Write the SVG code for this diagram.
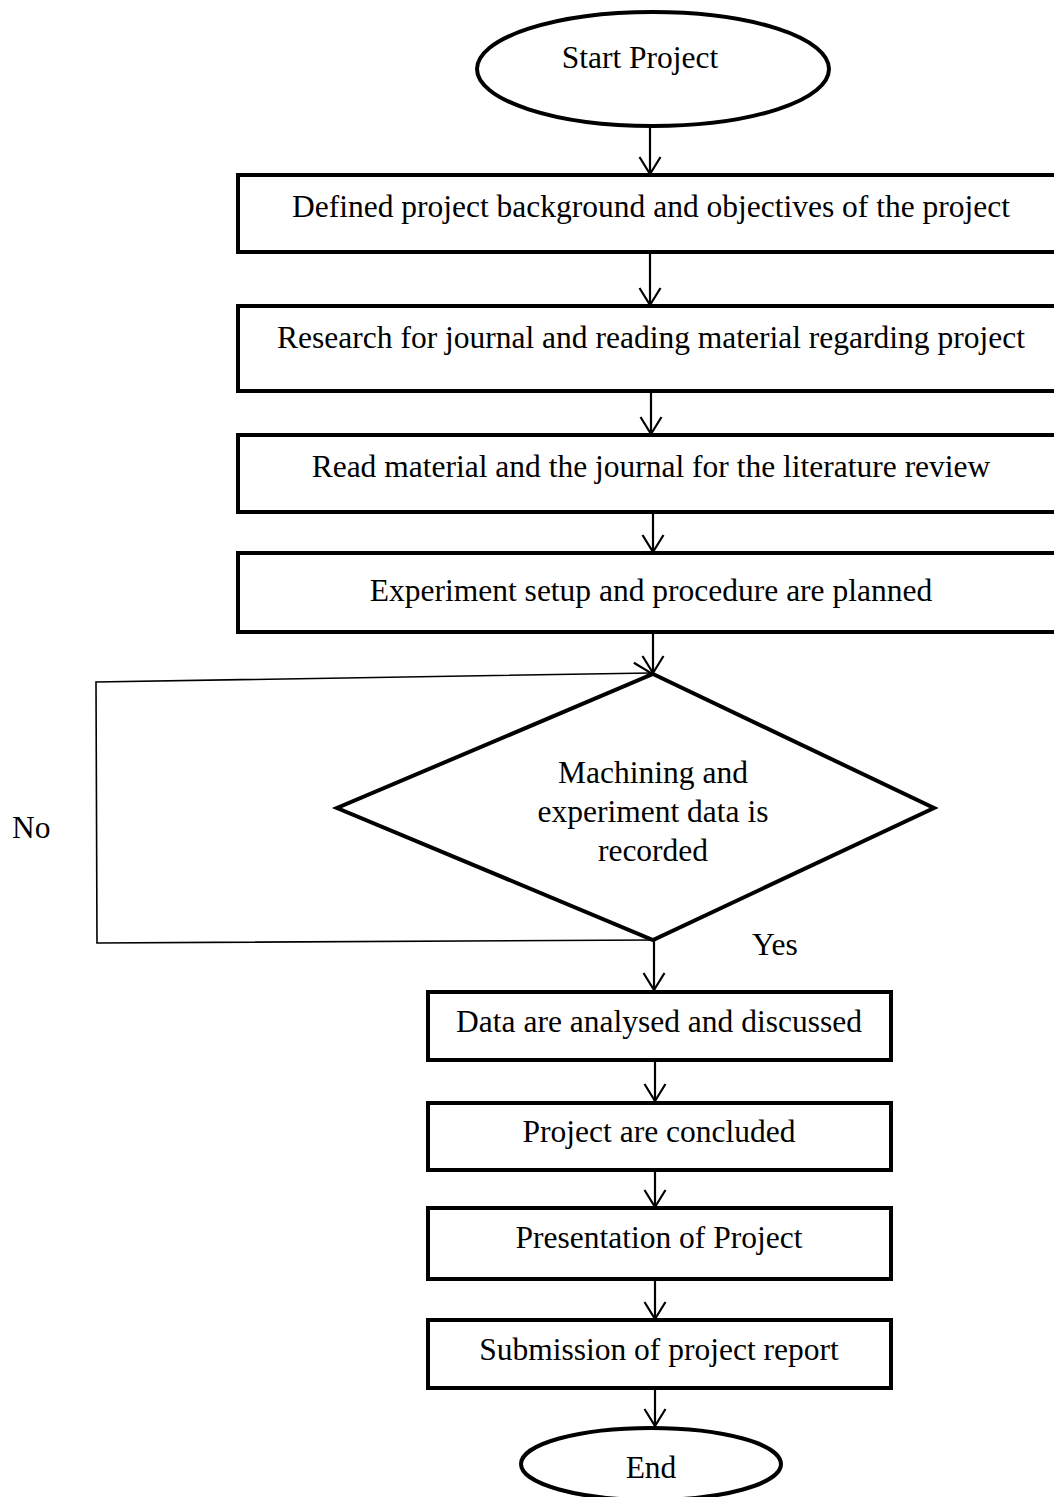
<svg xmlns="http://www.w3.org/2000/svg" width="1054" height="1497" viewBox="0 0 1054 1497">
<style>
.shape{fill:#fff;stroke:#000;stroke-width:4}
.t{font-family:"Liberation Serif","Times New Roman",serif;font-size:31.5px;fill:#000;text-anchor:middle}
.lbl{font-family:"Liberation Serif","Times New Roman",serif;font-size:31.5px;fill:#000}
.c{fill:none;stroke:#000;stroke-width:2.2}
.loop{fill:none;stroke:#000;stroke-width:1.6}
</style>
<defs>
<marker id="arr" viewBox="0 0 20 24" refX="18" refY="12" markerWidth="20" markerHeight="24" markerUnits="userSpaceOnUse" orient="auto">
<path d="M1,1.5 L18,12 L1,22.5" fill="none" stroke="#000" stroke-width="2.2"/>
</marker>
</defs>
<rect width="1054" height="1497" fill="#fff"/>
<g id="connectors">
<line class="c" x1="650" y1="127" x2="650" y2="174" marker-end="url(#arr)"/>
<line class="c" x1="650" y1="253" x2="650" y2="305" marker-end="url(#arr)"/>
<line class="c" x1="651" y1="392" x2="651" y2="434" marker-end="url(#arr)"/>
<line class="c" x1="653" y1="513" x2="653" y2="552" marker-end="url(#arr)"/>
<line class="c" x1="653" y1="633" x2="653" y2="673" marker-end="url(#arr)"/>
<line class="c" x1="654" y1="941" x2="654" y2="990" marker-end="url(#arr)"/>
<line class="c" x1="655" y1="1061" x2="655" y2="1101" marker-end="url(#arr)"/>
<line class="c" x1="655" y1="1171" x2="655" y2="1207" marker-end="url(#arr)"/>
<line class="c" x1="655" y1="1280" x2="655" y2="1319" marker-end="url(#arr)"/>
<line class="c" x1="655" y1="1389" x2="655" y2="1426" marker-end="url(#arr)"/>
<polyline class="loop" points="653,940 97,943 96,682 651,673" marker-end="url(#arr)"/>
<text class="lbl" x="12" y="838">No</text>
<text class="lbl" x="752" y="955">Yes</text>
</g>
<g id="start">
<ellipse class="shape" cx="653" cy="69" rx="176" ry="57"/>
<text class="t" x="640" y="68">Start Project</text>
</g>
<g id="step1">
<rect class="shape" x="238" y="175" width="818" height="77"/>
<text class="t" x="651" y="217">Defined project background and objectives of the project</text>
</g>
<g id="step2">
<rect class="shape" x="238" y="306" width="818" height="85"/>
<text class="t" x="651" y="348">Research for journal and reading material regarding project</text>
</g>
<g id="step3">
<rect class="shape" x="238" y="435" width="818" height="77"/>
<text class="t" x="651" y="477">Read material and the journal for the literature review</text>
</g>
<g id="step4">
<rect class="shape" x="238" y="553" width="818" height="79"/>
<text class="t" x="651" y="601">Experiment setup and procedure are planned</text>
</g>
<g id="decision">
<polygon class="shape" points="653,674 934,808 653,940 337,808"/>
<text class="t" x="653" y="783">Machining and</text>
<text class="t" x="653" y="822">experiment data is</text>
<text class="t" x="653" y="861">recorded</text>
</g>
<g id="step5">
<rect class="shape" x="428" y="992" width="463" height="68"/>
<text class="t" x="659" y="1032">Data are analysed and discussed</text>
</g>
<g id="step6">
<rect class="shape" x="428" y="1103" width="463" height="67"/>
<text class="t" x="659" y="1142">Project are concluded</text>
</g>
<g id="step7">
<rect class="shape" x="428" y="1208" width="463" height="71"/>
<text class="t" x="659" y="1248">Presentation of Project</text>
</g>
<g id="step8">
<rect class="shape" x="428" y="1320" width="463" height="68"/>
<text class="t" x="659" y="1360">Submission of project report</text>
</g>
<g id="end">
<ellipse class="shape" cx="651" cy="1464" rx="130" ry="36"/>
<text class="t" x="651" y="1478">End</text>
</g>
</svg>
